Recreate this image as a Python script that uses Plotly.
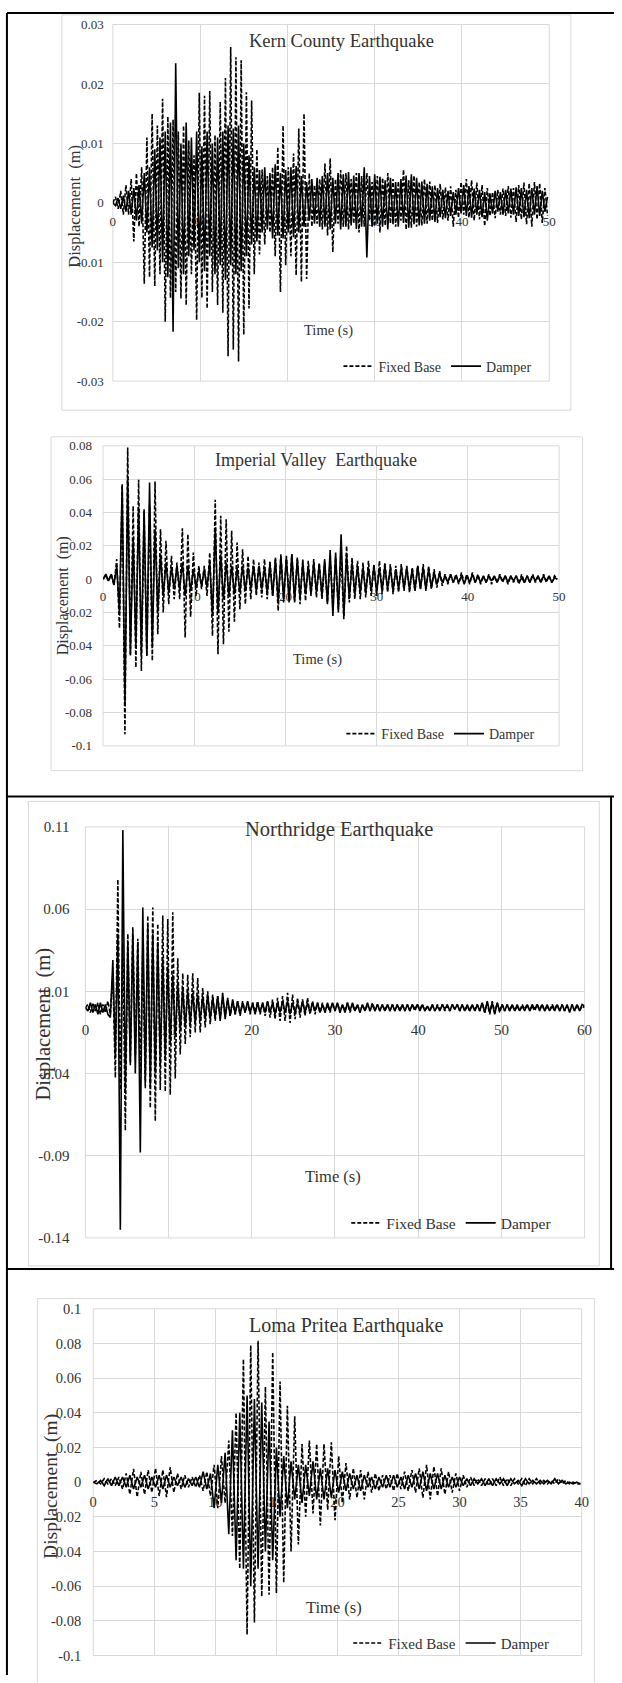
import numpy as np
import plotly.graph_objects as go

W, H = 622, 1683
SERIF = "Liberation Serif, Times New Roman, serif"
TXT = "#333333"
GRID = "#d9d9d9"

# ---------------- data (displacement in m, uniformly sampled at dt s) ----------------
kern_dt = 0.3
kern_fixed = [
    0, 0.001, -0.001, 0.002, -0.002, 0.003, -0.002, 0.004, -0.0065, 0.005,
    -0.004, 0.006, -0.0136, 0.011, -0.0125, 0.015, -0.014, 0.013, -0.012, 0.0175,
    -0.02, 0.0145, -0.016, 0.014, -0.015, 0.012, -0.0161, 0.013, -0.0172, 0.0105,
    -0.012, 0.008, -0.0197, 0.0185, -0.016, 0.018, -0.0178, 0.0188, -0.015, 0.0114,
    -0.0172, 0.017, -0.0185, 0.021, -0.0258, 0.0262, -0.0247, 0.0245, -0.0267, 0.024,
    -0.0222, 0.0186, -0.0178, 0.0172, -0.012, 0.009, -0.0087, 0.0056, -0.007, 0.0045,
    -0.005, 0.006, -0.009, 0.0094, -0.015, 0.013, -0.0105, 0.006, -0.009, 0.0083,
    -0.0122, 0.0125, -0.0133, 0.015, -0.0128, 0.005, -0.004, 0.003, -0.0035, 0.004,
    -0.0045, 0.0066, -0.0055, 0.0075, -0.0083, 0.004, -0.0035, 0.0055, -0.004, 0.005,
    -0.0045, 0.004, -0.0035, 0.005, -0.005, 0.0045, -0.004, 0.005, -0.003, 0.0035,
    -0.004, 0.0045, -0.005, 0.0042, -0.0038, 0.005, -0.0035, 0.004, -0.004, 0.0036,
    -0.003, 0.0056, -0.0045, 0.0038, -0.0042, 0.0046, -0.004, 0.0035, -0.0038, 0.004,
    -0.0035, 0.0036, -0.003, 0.003, -0.0034, 0.0032, -0.0028, 0.0026, -0.003, 0.0028,
    -0.004, 0.0022, -0.0025, 0.0035, -0.002, 0.004, -0.0025, 0.0038, -0.003, 0.0034,
    -0.0028, 0.003, -0.0039, 0.0025, -0.0022, 0.0018, -0.0026, 0.0022, -0.002, 0.0024,
    -0.0022, 0.0028, -0.0025, 0.0025, -0.0032, 0.003, -0.0028, 0.0034, -0.0036, 0.0033,
    -0.004, 0.0035, -0.0028, 0.0033, -0.0034, 0.0025, -0.0022,
]
kern_damper = [
    0, -0.0005, 0.0008, -0.001, 0.0012, -0.0015, 0.002, -0.002, 0.0025, -0.003,
    0.003, -0.0035, 0.005, -0.005, 0.006, -0.0075, 0.009, -0.008, 0.011, -0.01,
    0.012, -0.0125, 0.0135, -0.0217, 0.0235, -0.011, 0.01, -0.012, 0.0135, -0.009,
    0.011, -0.008, 0.012, -0.01, 0.0095, -0.0115, 0.012, -0.009, 0.01, -0.012,
    0.011, -0.0105, 0.012, -0.013, 0.013, -0.0105, 0.0125, -0.012, 0.013, -0.0115,
    0.01, -0.009, 0.008, -0.007, 0.006, -0.0065, 0.0055, -0.005, 0.006, -0.0045,
    0.005, -0.006, 0.0065, -0.0055, 0.005, -0.006, 0.0055, -0.005, 0.006, -0.0058,
    0.0062, -0.005, 0.0045, -0.004, 0.0035, -0.003, 0.004, -0.0035, 0.0042, -0.004,
    0.0045, -0.004, 0.005, -0.0045, 0.0042, -0.0035, 0.005, -0.0045, 0.0048, -0.004,
    0.0052, -0.0038, 0.0046, -0.0044, 0.005, -0.004, 0.006, -0.0092, 0.0045, -0.004,
    0.0048, -0.0035, 0.0044, -0.004, 0.0038, -0.0045, 0.0042, -0.0036, 0.0035, -0.004,
    0.004, -0.0034, 0.0046, -0.0042, 0.0048, -0.0036, 0.0042, -0.0038, 0.0036, -0.0035,
    0.0032, -0.003, 0.0028, -0.0032, 0.0025, -0.0024, 0.0022, -0.0026, 0.002, -0.0022,
    0.0018, -0.002, 0.0025, -0.0018, 0.003, -0.0022, 0.0028, -0.0025, 0.0024, -0.002,
    0.0022, -0.0024, 0.0018, -0.003, 0.0016, -0.0018, 0.002, -0.0015, 0.0018, -0.002,
    0.0022, -0.0018, 0.0024, -0.002, 0.0026, -0.0022, 0.0025, -0.0024, 0.0022, -0.0026,
    0.0025, -0.002, 0.0028, -0.0022, 0.002, -0.0015, 0.001,
]
kern_xticks = [0, 10, 20, 30, 40, 50]
kern_yticks = [-0.03, -0.02, -0.01, 0, 0.01, 0.02, 0.03]
kern_ylabels = ["-0.03", "-0.02", "-0.01", "0", "0.01", "0.02", "0.03"]

imp_dt = 0.3
imp_fixed = [
    0, 0.002, -0.001, 0.003, -0.004, 0.012, -0.0295, 0.0566, -0.093, 0.079,
    -0.046, 0.044, -0.053, 0.0596, -0.055, 0.041, -0.046, 0.044, -0.049, 0.0586,
    -0.033, 0.03, -0.02, 0.023, -0.015, 0.014, -0.012, 0.01, -0.012, 0.0305,
    -0.035, 0.027, -0.0226, 0.016, -0.01, 0.008, -0.006, 0.008, -0.01, 0.016,
    -0.034, 0.0477, -0.045, 0.038, -0.039, 0.036, -0.0315, 0.029, -0.0255, 0.022,
    -0.018, 0.018, -0.015, 0.014, -0.012, 0.012, -0.01, 0.01, -0.011, 0.012,
    -0.012, 0.011, -0.01, 0.013, -0.019, 0.015, -0.014, 0.014, -0.012, 0.015,
    -0.014, 0.013, -0.015, 0.012, -0.013, 0.011, -0.01, 0.012, -0.011, 0.01,
    -0.012, 0.01, -0.014, 0.012, -0.016, 0.013, -0.018, 0.015, -0.024, 0.02,
    -0.014, 0.013, -0.012, 0.011, -0.012, 0.01, -0.011, 0.011, -0.01, 0.009,
    -0.01, 0.011, -0.009, 0.01, -0.008, 0.009, -0.009, 0.008, -0.008, 0.009,
    -0.007, 0.008, -0.008, 0.007, -0.007, 0.008, -0.006, 0.009, -0.007, 0.008,
    -0.006, 0.006, -0.005, 0.005, -0.004, 0.003, -0.003, 0.003, -0.002, 0.003,
    -0.003, 0.004, -0.002, 0.003, -0.003, 0.004, -0.002, 0.003, -0.003, 0.002,
    -0.002, 0.003, -0.003, 0.002, -0.002, 0.003, -0.002, 0.002, -0.003, 0.002,
    -0.002, 0.002, -0.003, 0.003, -0.002, 0.002, -0.002, 0.003, -0.002, 0.002,
    -0.002, 0.003, -0.002, 0.002, -0.002, 0.002, 0.0,
]
imp_damper = [
    0, 0.003, -0.001, 0.003, -0.003, 0.008, -0.02, 0.057, -0.075, 0.06,
    -0.045, 0.025, -0.04, 0.043, -0.045, 0.042, -0.046, 0.058, -0.04, 0.03,
    -0.02, 0.015, -0.01, 0.01, -0.008, 0.007, -0.006, 0.008, -0.006, 0.01,
    -0.01, 0.008, -0.007, 0.006, -0.005, 0.005, -0.004, 0.006, -0.005, 0.01,
    -0.022, 0.031, -0.02, 0.015, -0.012, 0.01, -0.01, 0.008, -0.009, 0.007,
    -0.008, 0.008, -0.007, 0.007, -0.006, 0.008, -0.007, 0.008, -0.006, 0.007,
    -0.008, 0.009, -0.01, 0.012, -0.013, 0.014, -0.012, 0.013, -0.014, 0.015,
    -0.013, 0.012, -0.011, 0.01, -0.009, 0.008, -0.009, 0.01, -0.008, 0.009,
    -0.01, 0.012, -0.015, 0.0175, -0.022, 0.016, -0.02, 0.027, -0.022, 0.015,
    -0.012, 0.01, -0.009, 0.008, -0.008, 0.007, -0.008, 0.007, -0.007, 0.008,
    -0.008, 0.007, -0.007, 0.008, -0.006, 0.007, -0.007, 0.006, -0.006, 0.007,
    -0.006, 0.007, -0.006, 0.006, -0.007, 0.008, -0.006, 0.007, -0.006, 0.006,
    -0.005, 0.004, -0.003, 0.003, -0.002, 0.002, -0.002, 0.003, -0.002, 0.002,
    -0.002, 0.002, -0.003, 0.002, -0.002, 0.003, -0.002, 0.002, -0.002, 0.002,
    -0.002, 0.002, -0.001, 0.002, -0.002, 0.002, -0.001, 0.002, -0.002, 0.002,
    -0.001, 0.002, -0.002, 0.001, -0.002, 0.002, -0.002, 0.002, -0.001, 0.002,
    -0.002, 0.002, -0.001, 0.002, -0.002, 0.001, 0.0,
]
imp_xticks = [0, 10, 20, 30, 40, 50]
imp_yticks = [-0.1, -0.08, -0.06, -0.04, -0.02, 0, 0.02, 0.04, 0.06, 0.08]
imp_ylabels = ["-0.1", "-0.08", "-0.06", "-0.04", "-0.02", "0", "0.02", "0.04", "0.06", "0.08"]

nor_dt = 0.3
nor_fixed = [
    0, 0.002, -0.003, 0.003, -0.002, 0.003, -0.004, 0.002, -0.003, 0.004,
    -0.004, 0.02, -0.0426, 0.078, -0.05, 0.04, -0.0747, 0.045, -0.033, 0.049,
    -0.029, 0.042, -0.04, 0.036, -0.049, 0.056, -0.061, 0.061, -0.069, 0.051,
    -0.05, 0.056, -0.051, 0.054, -0.053, 0.058, -0.043, 0.03, -0.0285, 0.021,
    -0.022, 0.02, -0.018, 0.021, -0.015, 0.018, -0.015, 0.012, -0.012, 0.01,
    -0.01, 0.008, -0.008, 0.007, -0.006, 0.006, -0.005, 0.005, -0.005, 0.004,
    -0.004, 0.004, -0.005, 0.004, -0.003, 0.003, -0.004, 0.003, -0.003, 0.004,
    -0.004, 0.003, -0.005, 0.004, -0.006, 0.005, -0.007, 0.006, -0.008, 0.007,
    -0.008, 0.009, -0.0093, 0.008, -0.007, 0.006, -0.006, 0.005, -0.005, 0.006,
    -0.004, 0.004, -0.004, 0.003, -0.003, 0.003, -0.003, 0.002, -0.003, 0.003,
    -0.002, 0.003, -0.003, 0.002, -0.002, 0.003, -0.003, 0.002, -0.002, 0.002,
    -0.003, 0.002, -0.002, 0.002, -0.002, 0.003, -0.002, 0.002, -0.002, 0.002,
    -0.002, 0.002, -0.002, 0.002, -0.002, 0.002, -0.002, 0.002, -0.002, 0.002,
    -0.002, 0.002, -0.002, 0.002, -0.001, 0.002, -0.002, 0.001, -0.002, 0.002,
    -0.002, 0.002, -0.001, 0.002, -0.002, 0.001, -0.002, 0.002, -0.001, 0.002,
    -0.002, 0.002, -0.002, 0.001, -0.002, 0.002, -0.002, 0.002, -0.002, 0.003,
    -0.003, 0.003, -0.004, 0.004, -0.003, 0.003, -0.003, 0.002, -0.002, 0.002,
    -0.002, 0.002, -0.002, 0.001, -0.002, 0.002, -0.001, 0.002, -0.002, 0.001,
    -0.002, 0.002, -0.001, 0.002, -0.002, 0.001, -0.002, 0.002, -0.001, 0.002,
    -0.002, 0.002, -0.002, 0.001, -0.002, 0.002, -0.002, 0.002, -0.002, 0.001, 0.0,
]
nor_damper = [
    0, -0.002, 0.003, -0.003, 0.002, -0.004, 0.003, -0.003, 0.002, -0.004,
    -0.006, 0.029, -0.03, 0.045, -0.135, 0.108, -0.05, 0.04, -0.035, 0.045,
    -0.04, 0.04, -0.088, 0.061, -0.045, 0.05, -0.048, 0.045, -0.04, 0.04,
    -0.035, 0.03, -0.03, 0.025, -0.022, 0.02, -0.018, 0.015, -0.014, 0.012,
    -0.012, 0.01, -0.01, 0.009, -0.009, 0.008, -0.008, 0.007, -0.007, 0.008,
    -0.007, 0.006, -0.006, 0.007, -0.008, 0.009, -0.007, 0.006, -0.005, 0.005,
    -0.004, 0.004, -0.004, 0.003, -0.003, 0.004, -0.003, 0.003, -0.004, 0.003,
    -0.003, 0.003, -0.003, 0.004, -0.003, 0.003, -0.004, 0.003, -0.003, 0.004,
    -0.003, 0.004, -0.004, 0.003, -0.003, 0.003, -0.003, 0.004, -0.003, 0.003,
    -0.003, 0.003, -0.002, 0.003, -0.003, 0.002, -0.003, 0.003, -0.002, 0.003,
    -0.002, 0.003, -0.003, 0.002, -0.003, 0.003, -0.002, 0.003, -0.002, 0.002,
    -0.003, 0.002, -0.002, 0.003, -0.002, 0.002, -0.002, 0.002, -0.002, 0.002,
    -0.002, 0.002, -0.002, 0.002, -0.002, 0.002, -0.002, 0.002, -0.002, 0.002,
    -0.002, 0.002, -0.001, 0.002, -0.002, 0.002, -0.002, 0.001, -0.002, 0.002,
    -0.002, 0.001, -0.002, 0.002, -0.001, 0.002, -0.002, 0.002, -0.001, 0.002,
    -0.002, 0.002, -0.002, 0.002, -0.002, 0.002, -0.002, 0.002, -0.002, 0.003,
    -0.003, 0.004, -0.003, 0.003, -0.004, 0.003, -0.002, 0.002, -0.002, 0.002,
    -0.002, 0.002, -0.002, 0.002, -0.002, 0.001, -0.002, 0.002, -0.002, 0.002,
    -0.001, 0.002, -0.002, 0.002, -0.002, 0.002, -0.002, 0.001, -0.002, 0.002,
    -0.002, 0.002, -0.002, 0.002, -0.003, 0.002, -0.002, 0.002, -0.002, 0.002, 0.001,
]
nor_xticks = [0, 10, 20, 30, 40, 50, 60]
nor_yticks = [-0.14, -0.09, -0.04, 0.01, 0.06, 0.11]
nor_ylabels = ["-0.14", "-0.09", "-0.04", "0.01", "0.06", "0.11"]

loma_dt = 0.3
loma_fixed = [
    0, 0.001, -0.001, 0.002, -0.001, 0.002, -0.002, 0.003, -0.004, 0.005,
    -0.007, 0.0076, -0.0086, 0.006, -0.007, 0.007, -0.006, 0.008, -0.008, 0.007,
    -0.0086, 0.0086, -0.006, 0.005, -0.004, 0.004, -0.003, 0.003, -0.003, 0.004,
    -0.005, 0.006, -0.008, 0.01, -0.015, 0.015, -0.012, 0.024, -0.031, 0.04,
    -0.05, 0.071, -0.088, 0.079, -0.081, 0.0815, -0.066, 0.055, -0.065, 0.075,
    -0.064, 0.058, -0.058, 0.044, -0.04, 0.038, -0.036, 0.022, -0.02, 0.024,
    -0.018, 0.022, -0.025, 0.022, -0.016, 0.023, -0.022, 0.015, -0.012, 0.011,
    -0.01, 0.008, -0.009, 0.007, -0.01, 0.006, -0.006, 0.005, -0.005, 0.004,
    -0.004, 0.004, -0.005, 0.005, -0.004, 0.006, -0.005, 0.007, -0.006, 0.008,
    -0.009, 0.01, -0.01, 0.009, -0.008, 0.008, -0.007, 0.006, -0.006, 0.005,
    -0.005, 0.004, -0.003, 0.003, -0.002, 0.002, -0.002, 0.002, -0.002, 0.002,
    -0.002, 0.003, -0.002, 0.002, -0.002, 0.002, -0.001, 0.002, -0.002, 0.002,
    -0.001, 0.002, -0.001, 0.001, -0.001, 0.001, -0.001, 0.002, -0.001, 0.001,
    -0.001, 0.0, -0.001, -0.001,
]
loma_damper = [
    0, -0.001, 0.001, -0.002, 0.002, -0.002, 0.003, -0.002, 0.003, -0.003,
    0.004, -0.004, 0.003, -0.003, 0.004, -0.004, 0.003, -0.003, 0.004, -0.004,
    0.004, -0.003, 0.003, -0.002, 0.003, -0.003, 0.002, -0.002, 0.003, -0.003,
    0.006, -0.004, 0.005, -0.015, 0.01, -0.012, 0.017, -0.03, 0.03, -0.045,
    0.04, -0.05, 0.05, -0.06, 0.048, -0.05, 0.046, -0.04, 0.035, -0.045,
    0.02, -0.02, 0.015, -0.015, 0.012, -0.01, 0.01, -0.012, 0.01, -0.008,
    0.012, -0.01, 0.008, -0.01, 0.008, -0.009, 0.007, -0.006, 0.006, -0.005,
    0.005, -0.004, 0.004, -0.005, 0.004, -0.003, 0.003, -0.004, 0.003, -0.003,
    0.004, -0.003, 0.004, -0.003, 0.003, -0.004, 0.004, -0.003, 0.005, -0.004,
    0.006, -0.005, 0.005, -0.004, 0.005, -0.004, 0.004, -0.003, 0.003, -0.003,
    0.003, -0.002, 0.002, -0.002, 0.002, -0.001, 0.002, -0.002, 0.002, -0.002,
    0.002, -0.001, 0.002, -0.002, 0.002, -0.001, 0.001, -0.002, 0.002, -0.001,
    0.001, -0.001, 0.001, -0.001, 0.001, -0.001, 0.002, -0.001, 0.001, -0.001,
    0.0, -0.001, 0.0, -0.001,
]
loma_xticks = [0, 5, 10, 15, 20, 25, 30, 35, 40]
loma_yticks = [-0.1, -0.08, -0.06, -0.04, -0.02, 0, 0.02, 0.04, 0.06, 0.08, 0.1]
loma_ylabels = ["-0.1", "-0.08", "-0.06", "-0.04", "-0.02", "0", "0.02", "0.04", "0.06", "0.08", "0.1"]

series_names = ["Fixed Base", "Damper"]
y_title = "Displacement\u00a0 (m)"
x_title = "Time (s)"

# ---------------- layout configuration (pixels) ----------------
panels = [
    dict(title="Kern County Earthquake", dt=kern_dt, fixed=kern_fixed, damper=kern_damper,
         xt=kern_xticks, yt=kern_yticks, yl=kern_ylabels,
         plot=(111, 16.7, 556, 376.7), frame=(59, 7, 578, 406),
         title_xy=(344, 33), ytitle_xy=(71, 200), xtitle_xy=(331, 326), leg_xy=(341, 362),
         fs_tick=13, fs_title=18.5, fs_yt=16.5, fs_xt=14.5, fs_leg=14, ystand=8, xstand=9),
    dict(title="Imperial Valley\u00a0 Earthquake", dt=imp_dt, fixed=imp_fixed, damper=imp_damper,
         xt=imp_xticks, yt=imp_yticks, yl=imp_ylabels,
         plot=(101, 442, 566, 745), frame=(48, 433, 590, 770),
         title_xy=(318.5, 456), ytitle_xy=(61, 593), xtitle_xy=(320, 658), leg_xy=(344, 733),
         fs_tick=13, fs_title=18, fs_yt=16, fs_xt=14.5, fs_leg=14, ystand=10, xstand=8),
    dict(title="Northridge Earthquake", dt=nor_dt, fixed=nor_fixed, damper=nor_damper,
         xt=nor_xticks, yt=nor_yticks, yl=nor_ylabels,
         plot=(83, 826.7, 592, 1241.7), frame=(25, 801, 607, 1270),
         title_xy=(342, 829), ytitle_xy=(40, 1026), xtitle_xy=(335, 1180), leg_xy=(349, 1227),
         fs_tick=15, fs_title=20.5, fs_yt=20.5, fs_xt=16.5, fs_leg=15.5, ystand=15, xstand=11),
    dict(title="Loma Pritea Earthquake", dt=loma_dt, fixed=loma_fixed, damper=loma_damper,
         xt=loma_xticks, yt=loma_yticks, yl=loma_ylabels,
         plot=(91, 1313.3, 589, 1663.3), frame=(34, 1303, 602, 1700),
         title_xy=(349, 1330), ytitle_xy=(48, 1493), xtitle_xy=(337, 1615), leg_xy=(351, 1651),
         fs_tick=14.5, fs_title=20, fs_yt=19.5, fs_xt=16.5, fs_leg=15, ystand=11, xstand=9),
]


def fx(x):
    return x / W


def fy(y):
    return 1 - y / H


fig = go.Figure()
layout = dict(width=W, height=H, margin=dict(l=0, r=0, t=0, b=0), autosize=False,
              paper_bgcolor="white", plot_bgcolor="white",
              font=dict(family=SERIF, color=TXT), showlegend=True)
annotations, shapes = [], []

for i, p in enumerate(panels, start=1):
    sfx = "" if i == 1 else str(i)
    xa, ya = "x" + sfx, "y" + sfx
    leg = "legend" + sfx
    x0, y0, x1, y1 = p["plot"]
    xdom = [fx(x0), fx(x1)]
    ydom = [fy(y1), fy(y0)]
    ymin, ymax = min(p["yt"]), max(p["yt"])
    xmin, xmax = min(p["xt"]), max(p["xt"])
    # x axis sits on the y = 0 line (Excel style)
    xpos = ydom[0] + (0 - ymin) / (ymax - ymin) * (ydom[1] - ydom[0])

    for name, vals, dash in ((series_names[0], p["fixed"], "4px,2px"),
                             (series_names[1], p["damper"], "solid")):
        t = np.arange(len(vals)) * p["dt"]
        fig.add_trace(go.Scatter(x=t, y=vals, mode="lines", name=name,
                                 xaxis=xa, yaxis=ya, legend=leg,
                                 line=dict(color="black", width=1.6, dash=dash),
                                 hoverinfo="skip"))

    layout["xaxis" + sfx] = dict(domain=xdom, range=[xmin, xmax], anchor="free", position=xpos,
                                 tickvals=p["xt"], ticktext=[str(v) for v in p["xt"]],
                                 showgrid=True, gridcolor=GRID, gridwidth=1, zeroline=False,
                                 showline=False, ticks="", layer="below traces",
                                 ticklabelstandoff=p["xstand"],
                                 tickfont=dict(family=SERIF, size=p["fs_tick"], color=TXT))
    layout["yaxis" + sfx] = dict(domain=ydom, range=[ymin, ymax], anchor=xa,
                                 tickvals=p["yt"], ticktext=p["yl"],
                                 showgrid=True, gridcolor=GRID, gridwidth=1,
                                 zeroline=True, zerolinecolor=GRID, zerolinewidth=1,
                                 showline=False, ticks="", layer="below traces",
                                 ticklabelstandoff=p["ystand"],
                                 tickfont=dict(family=SERIF, size=p["fs_tick"], color=TXT))
    layout[leg] = dict(orientation="h", x=fx(p["leg_xy"][0]), y=fy(p["leg_xy"][1]),
                       xanchor="left", yanchor="middle", bgcolor="rgba(0,0,0,0)",
                       font=dict(family=SERIF, size=p["fs_leg"], color=TXT),
                       itemwidth=30, tracegroupgap=0)

    # plot-area outline (edge gridlines) and chart-area border
    shapes.append(dict(type="rect", xref=xa + " domain", yref=ya + " domain",
                       x0=0, x1=1, y0=0, y1=1, line=dict(color=GRID, width=1), layer="below"))
    fxa, fya, fxb, fyb = p["frame"]
    shapes.append(dict(type="rect", xref="paper", yref="paper",
                       x0=fx(fxa), x1=fx(fxb), y0=fy(fyb), y1=fy(fya),
                       line=dict(color=GRID, width=1), layer="below"))

    annotations += [
        dict(text=p["title"], xref="paper", yref="paper", x=fx(p["title_xy"][0]),
             y=fy(p["title_xy"][1]), xanchor="center", yanchor="middle", showarrow=False,
             font=dict(family=SERIF, size=p["fs_title"], color=TXT)),
        dict(text=y_title, xref="paper", yref="paper", x=fx(p["ytitle_xy"][0]),
             y=fy(p["ytitle_xy"][1]), xanchor="center", yanchor="middle", showarrow=False,
             textangle=-90, font=dict(family=SERIF, size=p["fs_yt"], color=TXT)),
        dict(text=x_title, xref="paper", yref="paper", x=fx(p["xtitle_xy"][0]),
             y=fy(p["xtitle_xy"][1]), xanchor="center", yanchor="middle", showarrow=False,
             font=dict(family=SERIF, size=p["fs_xt"], color=TXT)),
    ]

# table rules (black frame around the figure cells)
black = dict(color="black", width=2)
for (xa_, ya_, xb_, yb_) in [(3, 5, 3, H), (3, 5, W, 5), (3, 796, W, 796),
                             (3, 1273, W, 1273), (619, 796, 619, 1273)]:
    shapes.append(dict(type="line", xref="paper", yref="paper", x0=fx(xa_), y0=fy(ya_),
                       x1=fx(xb_), y1=fy(yb_), line=black))

layout["annotations"] = annotations
layout["shapes"] = shapes
fig.update_layout(**layout)
fig.write_html("out.html", config={"displayModeBar": False},
               post_script="document.body.style.margin='0px';document.body.style.overflow='hidden';")
